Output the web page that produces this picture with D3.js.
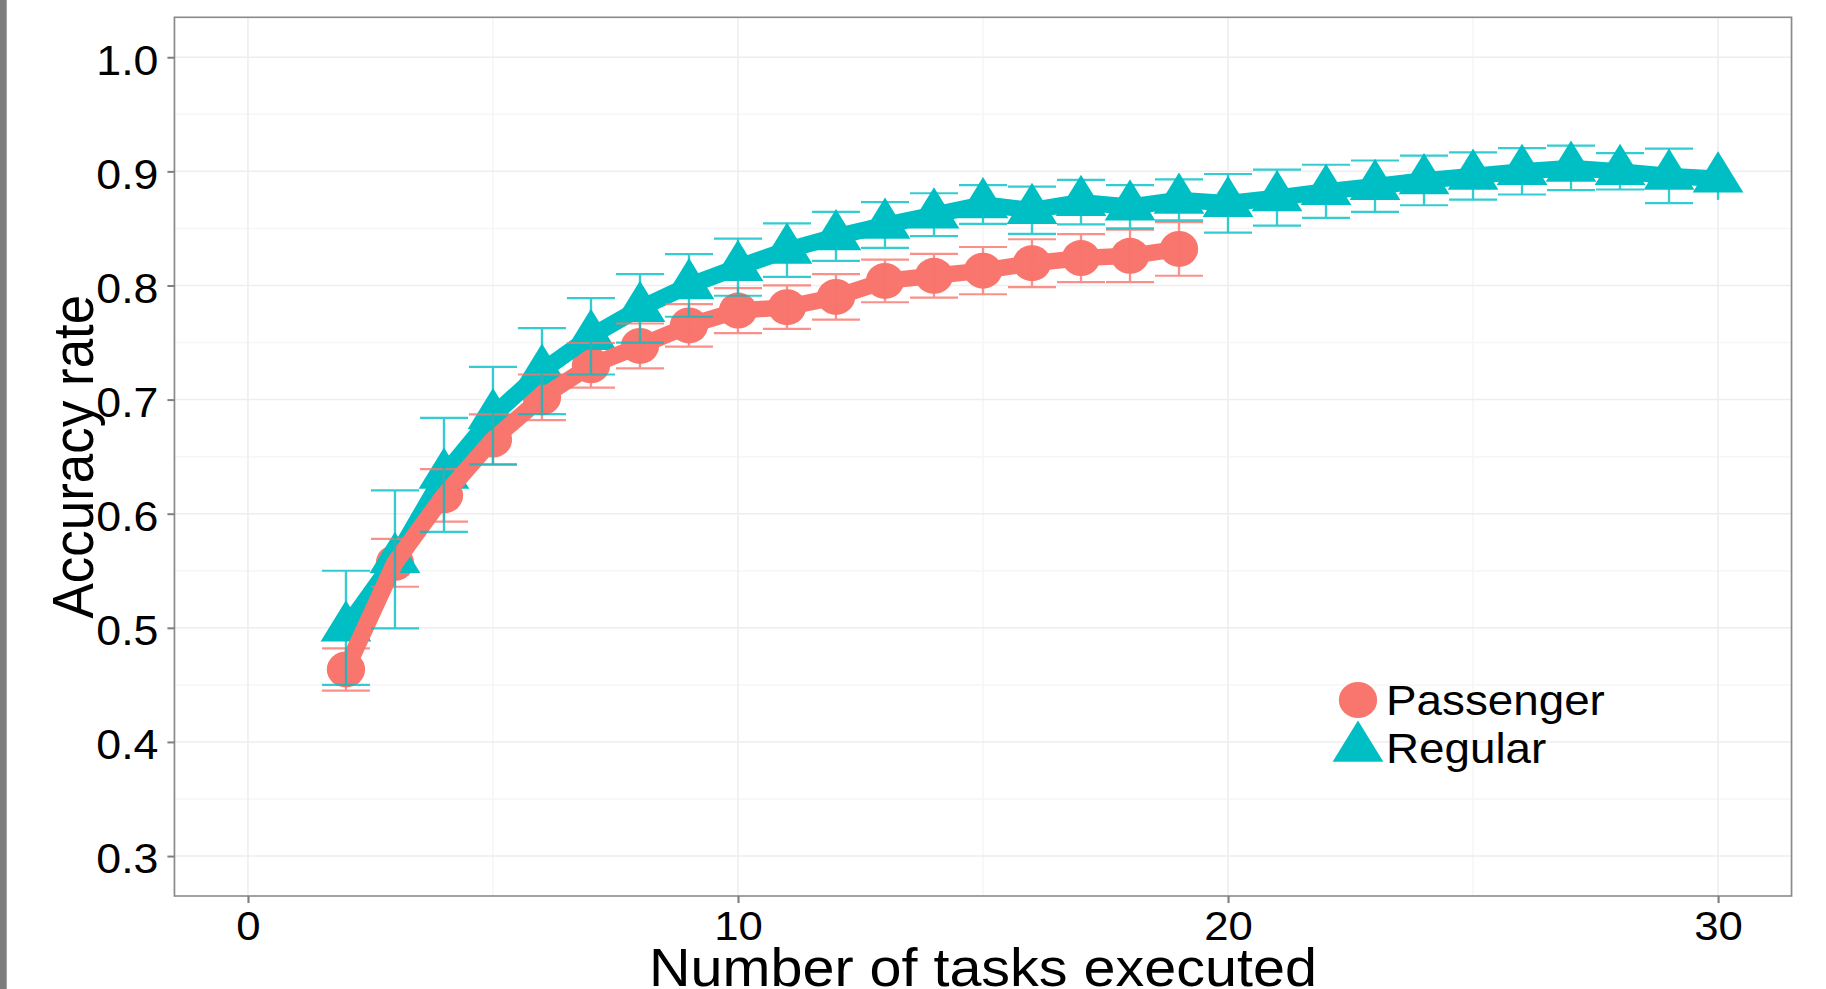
<!DOCTYPE html>
<html>
<head>
<meta charset="utf-8">
<script src="https://cdn.jsdelivr.net/npm/d3@7"></script>
<style>
  html, body { margin: 0; padding: 0; background: #fff; }
  svg { display: block; }
  text { font-family: "Liberation Sans", Arial, Helvetica, sans-serif; fill: #000; }
</style>
</head>
<body>
<svg id="chart"></svg>
<script>
// values
const passengerTasks = [2, 3, 4, 5, 6, 7, 8, 9, 10, 11, 12, 13, 14, 15, 16, 17, 18, 19];
const passengerAccuracy = [0.4635, 0.557, 0.616, 0.665, 0.702, 0.730, 0.747, 0.765, 0.778,
  0.781, 0.790, 0.804, 0.8085, 0.813, 0.8195, 0.824, 0.826, 0.832];
const passengerError = [0.0185, 0.021, 0.023, 0.022, 0.020, 0.0196, 0.0197, 0.0186, 0.0197,
  0.0191, 0.020, 0.0187, 0.0192, 0.0207, 0.021, 0.021, 0.023, 0.0235];

const regularTasks = [2, 3, 4, 5, 6, 7, 8, 9, 10, 11, 12, 13, 14, 15, 16, 17, 18, 19, 20,
  21, 22, 23, 24, 25, 26, 27, 28, 29, 30];
const regularAccuracy = [0.500, 0.560, 0.634, 0.686, 0.725, 0.7555, 0.780, 0.800, 0.816,
  0.831, 0.843, 0.853, 0.862, 0.871, 0.866, 0.873, 0.869, 0.875, 0.872, 0.877, 0.8825,
  0.887, 0.892, 0.896, 0.900, 0.903, 0.900, 0.896, 0.8935];
const regularError = [0.050, 0.0605, 0.050, 0.0427, 0.0377, 0.0335, 0.030, 0.0274, 0.025,
  0.0234, 0.0215, 0.020, 0.0188, 0.017, 0.0207, 0.0195, 0.0189, 0.0179, 0.0257, 0.0246,
  0.0233, 0.0225, 0.0217, 0.0207, 0.0203, 0.0195, 0.0159, 0.0239, 0.0185];

const groupNames = ["Passenger", "Regular"];
const groupColors = ["#F8766D", "#00BFC4"];

const xLimits = [0, 30];
const yLimits = [0.3, 1.0];
const xMajorTicks = [0, 10, 20, 30];
const xMinorTicks = [5, 15, 25];
const yMajorTicks = [0.3, 0.4, 0.5, 0.6, 0.7, 0.8, 0.9, 1.0];
const yMinorTicks = [0.35, 0.45, 0.55, 0.65, 0.75, 0.85, 0.95];

const xTitle = "Number of tasks executed";
const yTitle = "Accuracy rate";

// the original picture is a little wider than tall, so stretch the whole svg sideways
const STRETCH = 1.065;
const WIDTH = 1826;
const HEIGHT = 989;
const VIEW_WIDTH = WIDTH / STRETCH;

const panel = { left: 163.8, right: 1682.2, top: 17.3, bottom: 896 };

const CIRCLE_RADIUS = 18;
const TRIANGLE_RADIUS = 27.5;
const LINE_WIDTH = 16.5;
const CAP_WIDTH = 0.98;

function expand(limits) {
  const pad = (limits[1] - limits[0]) * 0.05;
  return [limits[0] - pad, limits[1] + pad];
}

const x = d3.scaleLinear().domain(expand(xLimits)).range([panel.left, panel.right]);
const y = d3.scaleLinear().domain(expand(yLimits)).range([panel.bottom, panel.top]);

const svg = d3.select("#chart")
  .attr("width", WIDTH)
  .attr("height", HEIGHT)
  .attr("viewBox", `0 0 ${VIEW_WIDTH} ${HEIGHT}`)
  .attr("preserveAspectRatio", "none");

// grey window edge on the left
svg.append("rect")
  .attr("x", 0).attr("y", 0)
  .attr("width", 6.3).attr("height", HEIGHT)
  .attr("fill", "#7d7d7d");

// grid
const grid = svg.append("g");
grid.selectAll("line.yminor").data(yMinorTicks).join("line")
  .attr("x1", panel.left).attr("x2", panel.right)
  .attr("y1", (d) => y(d)).attr("y2", (d) => y(d))
  .attr("stroke", "#f6f6f6").attr("stroke-width", 1.5);
grid.selectAll("line.xminor").data(xMinorTicks).join("line")
  .attr("y1", panel.top).attr("y2", panel.bottom)
  .attr("x1", (d) => x(d)).attr("x2", (d) => x(d))
  .attr("stroke", "#f6f6f6").attr("stroke-width", 1.5);
grid.selectAll("line.ymajor").data(yMajorTicks).join("line")
  .attr("x1", panel.left).attr("x2", panel.right)
  .attr("y1", (d) => y(d)).attr("y2", (d) => y(d))
  .attr("stroke", "#eeeeee").attr("stroke-width", 1.5);
grid.selectAll("line.xmajor").data(xMajorTicks).join("line")
  .attr("y1", panel.top).attr("y2", panel.bottom)
  .attr("x1", (d) => x(d)).attr("x2", (d) => x(d))
  .attr("stroke", "#eeeeee").attr("stroke-width", 1.5);

function makeSeries(tasks, accuracy, error) {
  return tasks.map((t, i) => ({ t, acc: accuracy[i], err: error[i] }));
}

const series = [
  makeSeries(passengerTasks, passengerAccuracy, passengerError),
  makeSeries(regularTasks, regularAccuracy, regularError),
];

const circleSymbol = d3.symbol().type(d3.symbolCircle).size(Math.PI * CIRCLE_RADIUS ** 2);
const triangleSymbol = d3.symbol().type(d3.symbolTriangle)
  .size(3 * Math.sqrt(3) * (TRIANGLE_RADIUS / 2) ** 2);
const symbols = [circleSymbol, triangleSymbol];

// points
series.forEach((points, i) => {
  svg.append("g")
    .selectAll("path")
    .data(points)
    .join("path")
    .attr("transform", (d) => `translate(${x(d.t)},${y(d.acc)})`)
    .attr("d", symbols[i])
    .attr("fill", groupColors[i]);
});

// lines (Regular below Passenger)
const line = d3.line().x((d) => x(d.t)).y((d) => y(d.acc));
[1, 0].forEach((i) => {
  svg.append("path")
    .datum(series[i])
    .attr("d", line)
    .attr("fill", "none")
    .attr("stroke", groupColors[i])
    .attr("stroke-width", LINE_WIDTH)
    .attr("stroke-linejoin", "round");
});

// error bars, caps left out where they would pass the x limit
function errorBarPath(d) {
  const p = d3.path();
  const cx = x(d.t);
  const hi = y(d.acc + d.err);
  const lo = y(d.acc - d.err);
  const showCap = d.t + CAP_WIDTH / 2 <= xLimits[1];
  const left = x(d.t - CAP_WIDTH / 2);
  const right = x(d.t + CAP_WIDTH / 2);
  if (showCap) {
    p.moveTo(left, hi);
    p.lineTo(right, hi);
    p.moveTo(left, lo);
    p.lineTo(right, lo);
  }
  p.moveTo(cx, hi);
  p.lineTo(cx, lo);
  return p.toString();
}

series.forEach((points, i) => {
  svg.append("g")
    .selectAll("path")
    .data(points)
    .join("path")
    .attr("d", errorBarPath)
    .attr("fill", "none")
    .attr("stroke", groupColors[i])
    .attr("stroke-width", 2.2)
    .attr("stroke-opacity", 0.8);
});

// panel border
svg.append("rect")
  .attr("x", panel.left).attr("y", panel.top)
  .attr("width", panel.right - panel.left)
  .attr("height", panel.bottom - panel.top)
  .attr("fill", "none")
  .attr("stroke", "#8a8a8a")
  .attr("stroke-width", 1.6);

// axes
const yAxis = svg.append("g")
  .attr("transform", `translate(${panel.left},0)`)
  .call(d3.axisLeft(y).tickValues(yMajorTicks).tickFormat(d3.format(".1f"))
    .tickSize(6.6).tickPadding(8.4));
yAxis.select(".domain").remove();
yAxis.selectAll(".tick line").attr("stroke", "#7f7f7f").attr("stroke-width", 2);
yAxis.selectAll(".tick text")
  .attr("dy", "0.4em")
  .style("font-size", "42px")
  .style("font-family", "'Liberation Sans', Arial, sans-serif")
  .attr("fill", "#000");

const xAxis = svg.append("g")
  .attr("transform", `translate(0,${panel.bottom})`)
  .call(d3.axisBottom(x).tickValues(xMajorTicks).tickFormat(d3.format("d"))
    .tickSize(7).tickPadding(8));
xAxis.select(".domain").remove();
xAxis.selectAll(".tick line").attr("stroke", "#7f7f7f").attr("stroke-width", 2);
xAxis.selectAll(".tick text")
  .style("font-size", "41px")
  .style("font-family", "'Liberation Sans', Arial, sans-serif")
  .attr("fill", "#000");

// axis titles
svg.append("text")
  .attr("x", (panel.left + panel.right) / 2)
  .attr("y", 986)
  .attr("text-anchor", "middle")
  .style("font-size", "54px")
  .text(xTitle);

svg.append("text")
  .attr("transform", `translate(87.6,${(panel.top + panel.bottom) / 2}) rotate(-90)`)
  .attr("text-anchor", "middle")
  .style("font-size", "53px")
  .text(yTitle);

// legend inside the panel
const legendX = 1275.1;
const legendRows = [700, 748];
const legend = svg.append("g");
groupNames.forEach((name, i) => {
  legend.append("path")
    .attr("transform", `translate(${legendX},${legendRows[i]})`)
    .attr("d", symbols[i])
    .attr("fill", groupColors[i]);
  legend.append("text")
    .attr("x", legendX + 26.3)
    .attr("y", legendRows[i] + 15.5)
    .style("font-size", "43px")
    .text(name);
});
</script>
</body>
</html>
